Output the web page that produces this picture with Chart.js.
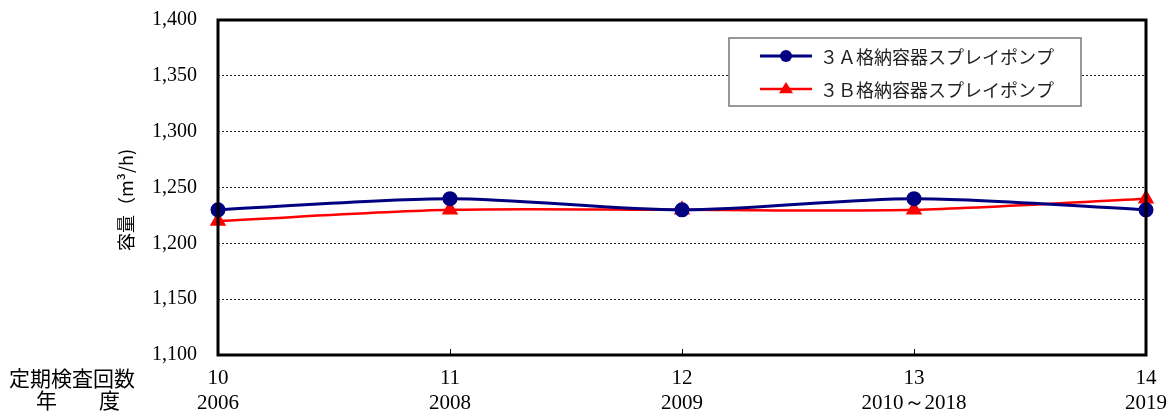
<!DOCTYPE html>
<html>
<head>
<meta charset="utf-8">
<script src="https://cdn.jsdelivr.net/npm/chart.js@4/dist/chart.umd.min.js"></script>
<style>
  html, body { margin: 0; padding: 0; background: #fff; overflow: hidden; }
  canvas { display: block; }
</style>
</head>
<body>
<canvas id="c" width="1173" height="414"></canvas>
<script>
// Inspection rounds and fiscal years shown under each point
const inspections = ['10', '11', '12', '13', '14'];
const years = ['2006', '2008', '2009', '2010～2018', '2019'];

// Pump capacity (m3/h)
const pumpA = [1230, 1240, 1230, 1240, 1230];
const pumpB = [1220, 1230, 1230, 1230, 1240];

const seriesNames = ['３Ａ格納容器スプレイポンプ', '３Ｂ格納容器スプレイポンプ'];
const rowHeaders = ['定期検査回数', '年　　度'];

const yMin = 1100, yMax = 1400, yStep = 50;

const serif = '"Liberation Serif", "DejaVu Serif", serif';
const jp = '"Noto Sans CJK JP", sans-serif';

const labels = inspections.map((n, i) => [n, years[i]]);

// Frame, inner ticks, row headers, y title and the boxed legend
const decorations = {
  id: 'decorations',
  afterDraw(chart) {
    const ctx = chart.ctx;
    const a = chart.chartArea;
    const xs = chart.scales.x;

    ctx.save();
    // inner tick marks on the bottom edge
    ctx.strokeStyle = '#000';
    ctx.lineWidth = 1;
    for (let i = 1; i < labels.length - 1; i++) {
      const x = Math.round(xs.getPixelForValue(i)) + 0.5;
      ctx.beginPath();
      ctx.moveTo(x, a.bottom);
      ctx.lineTo(x, a.bottom - 6);
      ctx.stroke();
    }
    // plot frame
    ctx.lineWidth = 3;
    ctx.strokeRect(a.left, a.top, a.right - a.left, a.bottom - a.top);

    // row headers to the left of the category labels
    ctx.fillStyle = '#000';
    ctx.font = '21px ' + jp;
    ctx.textBaseline = 'middle';
    ctx.textAlign = 'left';
    ctx.fillText(rowHeaders[0], 9, 378);
    ctx.fillText(rowHeaders[1], 36, 400);

    // y axis title, rotated
    ctx.save();
    ctx.translate(126, 200);
    ctx.rotate(-Math.PI / 2);
    ctx.textAlign = 'center';
    ctx.font = '18px ' + jp;
    ctx.fillText('容量（m³/h)', 0, 0);
    ctx.restore();

    // legend box
    const bx = 729, by = 38, bw = 352, bh = 68;
    ctx.fillStyle = '#fff';
    ctx.fillRect(bx, by, bw, bh);
    ctx.strokeStyle = '#777';
    ctx.lineWidth = 1.5;
    ctx.strokeRect(bx, by, bw, bh);
    chart.data.datasets.forEach((ds, i) => {
      const y = by + 18 + i * 33;
      ctx.strokeStyle = ds.borderColor;
      ctx.lineWidth = ds.borderWidth;
      ctx.beginPath();
      ctx.moveTo(760, y);
      ctx.lineTo(812, y);
      ctx.stroke();
      ctx.fillStyle = ds.pointBackgroundColor;
      ctx.beginPath();
      if (ds.pointStyle === 'triangle') {
        const r = 7;
        ctx.moveTo(786, y - r);
        ctx.lineTo(786 + r, y + r * 0.6);
        ctx.lineTo(786 - r, y + r * 0.6);
        ctx.closePath();
      } else {
        ctx.arc(786, y, 6, 0, Math.PI * 2);
      }
      ctx.fill();
      ctx.fillStyle = '#222';
      ctx.font = '18px ' + jp;
      ctx.textAlign = 'left';
      ctx.textBaseline = 'middle';
      ctx.fillText(ds.label, 820, y + 1);
    });
    ctx.restore();
  }
};

new Chart(document.getElementById('c'), {
  type: 'line',
  data: {
    labels: labels,
    datasets: [
      {
        label: seriesNames[0],
        data: pumpA,
        borderColor: '#000080',
        backgroundColor: '#000080',
        pointBackgroundColor: '#000080',
        pointBorderColor: '#000080',
        borderWidth: 3,
        pointStyle: 'circle',
        pointRadius: 6,
        tension: 0.3
      },
      {
        label: seriesNames[1],
        data: pumpB,
        borderColor: '#ff0000',
        backgroundColor: '#ff0000',
        pointBackgroundColor: '#ff0000',
        pointBorderColor: '#ff0000',
        borderWidth: 2.5,
        pointStyle: 'triangle',
        pointRadius: 7,
        tension: 0.3
      }
    ]
  },
  options: {
    responsive: false,
    maintainAspectRatio: false,
    animation: false,
    devicePixelRatio: 1,
    layout: { padding: { top: 20, right: 27, left: 0, bottom: 0 } },
    plugins: {
      legend: { display: false },
      tooltip: { enabled: false }
    },
    scales: {
      x: {
        offset: false,
        border: { display: false },
        grid: { display: false },
        ticks: {
          color: '#000',
          font: { family: serif, size: 21 },
          padding: 3,
          maxRotation: 0,
          autoSkip: false
        },
        afterFit(s) { s.height = 59; s.paddingLeft = 0; s.paddingRight = 0; }
      },
      y: {
        min: yMin,
        max: yMax,
        border: { display: false, dash: [2, 2] },
        grid: {
          color: '#222',
          lineWidth: 1,
          drawTicks: false
        },
        ticks: {
          stepSize: yStep,
          color: '#000',
          padding: 21,
          font: { family: serif, size: 20 },
          callback: v => v.toLocaleString('en-US')
        },
        afterFit(s) { s.width = 218; s.paddingTop = 0; s.paddingBottom = 0; }
      }
    }
  },
  plugins: [decorations]
});
</script>
</body>
</html>
